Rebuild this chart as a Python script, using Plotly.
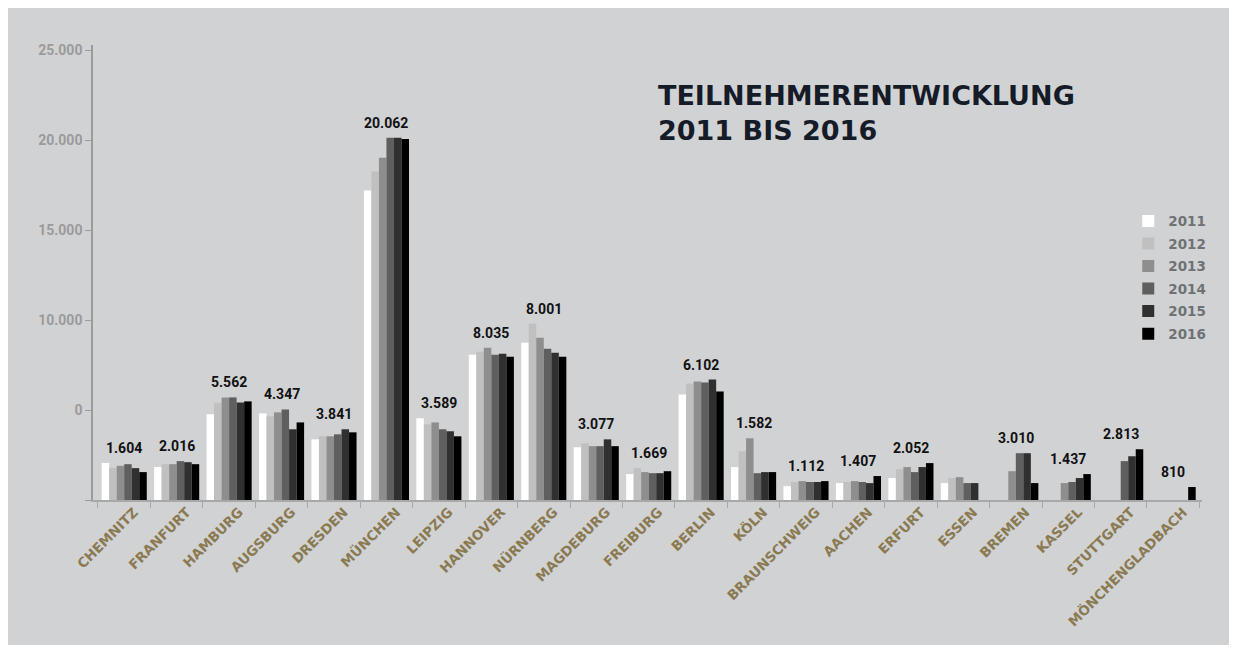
import plotly.graph_objects as go

cities = ["CHEMNITZ", "FRANFURT", "HAMBURG", "AUGSBURG", "DRESDEN", "MÜNCHEN", "LEIPZIG",
          "HANNOVER", "NÜRNBERG", "MAGDEBURG", "FREIBURG", "BERLIN", "KÖLN", "BRAUNSCHWEIG",
          "AACHEN", "ERFURT", "ESSEN", "BREMEN", "KASSEL", "STUTTGART", "MÖNCHENGLADBACH"]

years = ["2011", "2012", "2013", "2014", "2015", "2016"]

v2011 = [2060, 1830, 4770, 4810, 3370, 17200, 4540, 8070, 8740, 2930, 1440, 5860, 1830, 770, 940, 1220, 940, None, None, None, None]
v2012 = [1790, 1990, 5400, 4650, 3540, 18250, 4200, 8240, 9790, 3150, 1770, 6470, 2710, 1000, 1000, 1710, 1220, None, None, None, None]
v2013 = [1900, 1990, 5700, 4870, 3540, 19020, 4310, 8460, 9010, 2990, 1550, 6580, 3430, 1050, 1050, 1830, 1270, 1600, 940, None, None]
v2014 = [1990, 2160, 5700, 5030, 3650, 20130, 3930, 8070, 8410, 2990, 1490, 6530, 1490, 1000, 1000, 1550, 940, 2600, 1000, 2160, None]
v2015 = [1770, 2100, 5420, 3930, 3930, 20130, 3820, 8130, 8180, 3370, 1490, 6690, 1550, 1000, 940, 1830, 940, 2600, 1220, 2430, None]
v2016 = [1550, 1990, 5480, 4310, 3760, 20062, 3540, 7960, 7960, 2990, 1600, 6030, 1550, 1050, 1330, 2050, None, 940, 1440, 2820, 720]

group_labels = ["1.604", "2.016", "5.562", "4.347", "3.841", "20.062", "3.589", "8.035", "8.001",
                "3.077", "1.669", "6.102", "1.582", "1.112", "1.407", "2.052", "", "3.010",
                "1.437", "2.813", "810"]

y_tickvals = [0, 5000, 10000, 15000, 20000, 25000]
y_ticktext = ["", "0", "10.000", "15.000", "20.000", "25.000"]

series = [v2011, v2012, v2013, v2014, v2015, v2016]
colors = ["#FFFFFF", "#C0C0C0", "#8E8E8E", "#5F5F5F", "#303030", "#000000"]

BG = "#D1D2D4"

fig = go.Figure()
for yr, vals, col in zip(years, series, colors):
    fig.add_trace(go.Bar(name=yr, x=cities, y=vals, legendgroup=yr,
                         marker=dict(color=col, line=dict(width=0))))

for city, lab, *vals in zip(cities, group_labels, *series):
    present = [v for v in vals if v is not None]
    if not lab or not present:
        continue
    fig.add_annotation(x=city, y=max(present), text=lab, showarrow=False, yanchor="bottom",
                       yshift=5, font=dict(family="Roboto", size=14, color="#111111", weight="bold"))

fig.add_annotation(xref="paper", yref="paper", x=0.5075, y=0.928, xanchor="left", yanchor="top",
                   text="TEILNEHMERENTWICKLUNG<br>2011 BIS 2016", showarrow=False, align="left",
                   font=dict(family="DejaVu Sans", size=27, color="#151C28", weight="bold"))

fig.update_layout(
    width=1221, height=637,
    margin=dict(l=85, r=27, t=37, b=145),
    paper_bgcolor=BG, plot_bgcolor=BG,
    barmode="group", bargap=0.14, bargroupgap=0,
    showlegend=True,
    legend=dict(x=0.9335, y=0.647, xanchor="left", yanchor="top", bgcolor="rgba(0,0,0,0)",
                font=dict(family="DejaVu Sans", size=13.5, color="#6F7275", weight="bold"),
                traceorder="grouped", tracegroupgap=2),
    xaxis=dict(
        range=[-0.595, 20.55], showgrid=False, zeroline=False,
        showline=True, linecolor="#A7A8AA", linewidth=2,
        ticks="outside", tickson="boundaries", ticklen=6, tickcolor="#A7A8AA", tickwidth=1,
        tickangle=-45, ticklabelshift=10, ticklabelstandoff=-3,
        tickfont=dict(family="DejaVu Sans", size=13.5, color="#8A7A52", weight="bold"),
    ),
    yaxis=dict(
        range=[0, 25280], showgrid=False, zeroline=False,
        showline=True, linecolor="#9B9B9B", linewidth=1.5,
        ticks="outside", ticklen=6, tickcolor="#9B9B9B", tickwidth=1,
        tickvals=y_tickvals, ticktext=y_ticktext,
        tickfont=dict(family="Roboto", size=14, color="#9B9B9B", weight="bold"),
    ),
)

fig.write_html("out.html")
